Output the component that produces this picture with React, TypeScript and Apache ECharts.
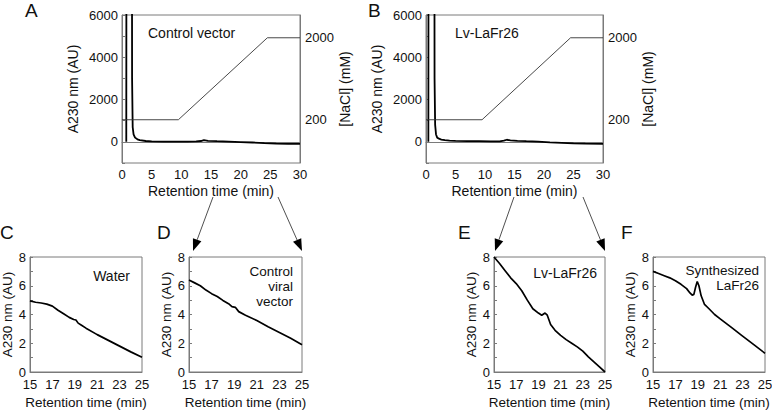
import React, { useEffect, useRef } from "react";
import * as echarts from "echarts";

const FONT = "'Liberation Sans', Arial, Helvetica, sans-serif";
const INK = "#111";
const FRAME = "#7a7a7a";

// ---- Panel A: control vector chromatogram (0-30 min) ----
const timeA = [0.72, 0.8, 1.62, 1.7, 1.8, 1.95, 2.2, 2.6, 3.0, 4, 5, 7, 9, 11, 12.5, 13.3, 13.8, 14.5, 16, 18, 20, 22, 24, 26, 28, 30];
const absA = [0, 30000, 30000, 3000, 700, 350, 200, 120, 80, 40, 20, 15, 10, 15, 20, 40, 80, 50, 30, 10, -10, -30, -60, -80, -95, -100];

// ---- Panel B: Lv-LaFr26 chromatogram ----
const timeB = [0.4, 0.47, 1.35, 1.45, 1.55, 1.7, 1.9, 2.2, 2.6, 3.2, 4, 5, 7, 9, 11, 12.5, 13.2, 13.7, 14.3, 15.5, 17, 19, 21, 23, 25, 27, 30];
const absB = [0, 30000, 30000, 3000, 800, 350, 200, 150, 110, 80, 60, 45, 35, 30, 25, 25, 60, 100, 70, 50, 30, 10, -20, -45, -70, -85, -100];

// ---- NaCl gradient (both panels) ----
const timeNaCl = [0, 9.5, 24.5, 30];
const naclConc = [200, 200, 2000, 2000];
const naclTickLabels = [200, 2000];

// ---- Zoomed panels (15-25 min) ----
const timeC = [15, 15.5, 16, 16.5, 17, 17.5, 18, 18.5, 18.9, 19.1, 19.3, 19.6, 20, 21, 22, 23, 24, 25];
const absC = [4.95, 4.85, 4.8, 4.72, 4.58, 4.3, 4.05, 3.8, 3.65, 3.62, 3.4, 3.25, 3.05, 2.6, 2.2, 1.8, 1.4, 1.02];

const timeD = [15, 15.5, 16, 16.5, 17, 17.5, 18, 18.5, 18.8, 19.1, 19.4, 20, 21, 22, 23, 24, 25];
const absD = [6.4, 6.2, 6.0, 5.7, 5.45, 5.25, 4.98, 4.75, 4.55, 4.5, 4.2, 3.95, 3.58, 3.15, 2.75, 2.35, 1.9];

const timeE = [15, 15.5, 16, 16.5, 17, 17.5, 18, 18.5, 19, 19.3, 19.6, 19.8, 20.1, 20.5, 21, 21.5, 22, 22.5, 23, 23.5, 24, 24.5, 25];
const absE = [8.0, 7.55, 7.05, 6.55, 6.15, 5.65, 5.0, 4.4, 4.1, 3.95, 4.1, 3.95, 3.3, 2.9, 2.55, 2.25, 2.0, 1.75, 1.45, 1.05, 0.7, 0.35, 0.0];

const timeF = [15, 15.5, 16, 16.5, 17, 17.5, 18, 18.3, 18.5, 18.65, 18.8, 18.95, 19.1, 19.3, 19.6, 20, 20.5, 21, 22, 23, 24, 25];
const absF = [7.0, 6.85, 6.7, 6.55, 6.35, 6.1, 5.8, 5.5, 5.35, 5.4, 5.9, 6.3, 6.0, 5.3, 4.7, 4.4, 4.0, 3.7, 3.1, 2.5, 1.9, 1.3];

const zip = (xs: number[], ys: number[]) => xs.map((x, i) => [x, ys[i]]);

const grids = [
  { left: 122, top: 15, width: 178, height: 148 },
  { left: 426, top: 15, width: 177, height: 148 },
  { left: 30, top: 257, width: 112, height: 115 },
  { left: 189, top: 257, width: 113, height: 115 },
  { left: 494, top: 257, width: 111, height: 115 },
  { left: 653, top: 257, width: 112, height: 115 },
];

function arrow(x1: number, y1: number, x2: number, y2: number) {
  const dx = x2 - x1, dy = y2 - y1;
  const L = Math.hypot(dx, dy);
  const ux = dx / L, uy = dy / L;
  const hl = 12, hw = 4.5;
  const bx = x2 - ux * hl, by = y2 - uy * hl;
  return [
    { type: "line", shape: { x1, y1, x2: bx, y2: by }, style: { stroke: "#222", lineWidth: 0.8 } },
    {
      type: "polygon",
      shape: { points: [[x2, y2], [bx - uy * hw, by + ux * hw], [bx + uy * hw, by - ux * hw]] },
      style: { fill: "#000" },
    },
  ];
}

function txt(text: string, x: number, y: number, size: number, align = "left", vAlign = "middle") {
  return {
    type: "text",
    x,
    y,
    style: { text, fontSize: size, fontFamily: FONT, fill: INK, align, verticalAlign: vAlign },
  };
}

export default function App() {
  const ref = useRef<HTMLDivElement>(null);

  useEffect(() => {
    if (!ref.current) return;
    const chart = echarts.init(ref.current, null, { renderer: "svg" });

    const tickLabel = { fontSize: 13, fontFamily: FONT, color: INK };
    const nameStyleTop = { fontSize: 14, fontFamily: FONT, color: INK };
    const nameStyleBot = { fontSize: 13.5, fontFamily: FONT, color: INK };
    const axisLine = { show: true, lineStyle: { color: FRAME, width: 1 } };

    const xTop = (gi: number) => ({
      type: "value",
      gridIndex: gi,
      min: 0,
      max: 30,
      interval: 5,
      name: "Retention time (min)",
      nameLocation: "middle",
      nameGap: 21,
      nameTextStyle: nameStyleTop,
      axisLine,
      axisTick: { show: false },
      axisLabel: { ...tickLabel, margin: 5 },
      splitLine: { show: false },
    });
    const xBot = (gi: number) => ({
      type: "value",
      gridIndex: gi,
      min: 15,
      max: 25,
      interval: 1,
      name: "Retention time (min)",
      nameLocation: "middle",
      nameGap: 23,
      nameTextStyle: nameStyleBot,
      axisLine,
      axisTick: { show: false },
      axisLabel: {
        ...tickLabel,
        margin: 6,
        lineHeight: 13,
        formatter: (v: number) => (Math.round(v) % 2 === 1 ? String(v) : ""),
      },
      splitLine: { show: false },
    });
    const yTopL = (gi: number) => ({
      type: "value",
      gridIndex: gi,
      min: -1000,
      max: 6000,
      interval: 1000,
      name: "A230 nm (AU)",
      nameLocation: "middle",
      nameGap: 42,
      nameTextStyle: nameStyleTop,
      axisLine,
      axisTick: { show: true, inside: true, length: 3, lineStyle: { color: FRAME } },
      axisLabel: { ...tickLabel, margin: 4, formatter: (v: number) => (v >= 0 && v % 2000 === 0 ? String(v) : "") },
      splitLine: { show: false },
    });
    const yTopR = (gi: number) => ({
      type: "value",
      gridIndex: gi,
      position: "right",
      min: -750,
      max: 2500,
      name: "[NaCl] (mM)",
      nameLocation: "middle",
      nameGap: 38,
      nameTextStyle: nameStyleTop,
      axisLine,
      axisTick: { show: false },
      axisLabel: {
        ...tickLabel,
        margin: 5,
        customValues: naclTickLabels,
        formatter: (v: number) => String(v),
      },
      splitLine: { show: false },
    });
    const yBot = (gi: number) => ({
      type: "value",
      gridIndex: gi,
      min: 0,
      max: 8,
      interval: 1,
      name: "A230 nm (AU)",
      nameLocation: "middle",
      nameGap: 15,
      nameTextStyle: nameStyleBot,
      axisLine,
      axisTick: { show: true, inside: true, length: 3, lineStyle: { color: FRAME } },
      axisLabel: {
        ...tickLabel,
        margin: 4,
        lineHeight: 11,
        formatter: (v: number) => (Math.round(v) % 2 === 0 ? String(v) : ""),
      },
      splitLine: { show: false },
    });

    const lineSeries = (data: number[][], xi: number, yi: number, width = 1.7, color = "#000") => ({
      type: "line",
      xAxisIndex: xi,
      yAxisIndex: yi,
      data,
      showSymbol: false,
      symbol: "none",
      smooth: false,
      clip: true,
      lineStyle: { color, width },
      z: 3,
    });

    const graphics: any[] = [
      txt("A", 25, 10, 19),
      txt("B", 368, 10, 19),
      txt("C", 0, 232, 19),
      txt("D", 157, 232, 19),
      txt("E", 458, 232, 19),
      txt("F", 621, 232, 19),
      txt("Control vector", 148, 33, 14),
      txt("Lv-LaFr26", 455, 33, 14),
      txt("Water", 130, 276, 14, "right"),
      txt("Control", 293, 271, 13.5, "right"),
      txt("viral", 293, 286, 13.5, "right"),
      txt("vector", 293, 301, 13.5, "right"),
      txt("Lv-LaFr26", 597, 273, 14, "right"),
      txt("Synthesized", 759, 270, 13.5, "right"),
      txt("LaFr26", 759, 285, 13.5, "right"),
      ...arrow(213, 197, 193, 251),
      ...arrow(278, 197, 302, 251),
      ...arrow(514, 197, 495, 251),
      ...arrow(583, 197, 605, 251),
    ];

    chart.setOption({
      animation: false,
      backgroundColor: "#fff",
      textStyle: { fontFamily: FONT },
      grid: grids.map((g) => ({
        ...g,
        show: true,
        borderColor: FRAME,
        borderWidth: 1,
        backgroundColor: "transparent",
        containLabel: false,
        outerBoundsMode: "none",
      })),
      xAxis: [xTop(0), xTop(1), xBot(2), xBot(3), xBot(4), xBot(5)],
      yAxis: [yTopL(0), yTopR(0), yTopL(1), yTopR(1), yBot(2), yBot(3), yBot(4), yBot(5)],
      series: [
        lineSeries(zip(timeA, absA), 0, 0, 1.8),
        lineSeries(zip(timeNaCl, naclConc), 0, 1, 0.9, "#333"),
        lineSeries(zip(timeB, absB), 1, 2, 1.8),
        lineSeries(zip(timeNaCl, naclConc), 1, 3, 0.9, "#333"),
        lineSeries(zip(timeC, absC), 2, 4),
        lineSeries(zip(timeD, absD), 3, 5),
        lineSeries(zip(timeE, absE), 4, 6),
        lineSeries(zip(timeF, absF), 5, 7),
      ],
      graphic: graphics,
    });

    return () => chart.dispose();
  }, []);

  return (
    <div
      ref={ref}
      style={{ position: "fixed", left: 0, top: 0, width: 772, height: 411, background: "#fff" }}
    />
  );
}
